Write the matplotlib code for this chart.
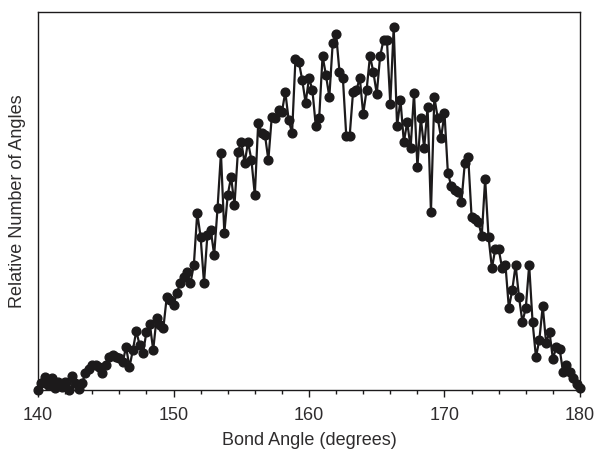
import numpy as np
import matplotlib
matplotlib.use("Agg")
import matplotlib.pyplot as plt
from matplotlib.ticker import MultipleLocator

plt.rcParams["font.family"] = ["Liberation Sans", "DejaVu Sans"]

# bond angle histogram, 0.25 degree bins from 140 to 180
angle_start, angle_step = 140.0, 0.25
counts = [
    0, 7, 13, 5, 12, 2, 8, 3, 8, 0,
    14, 7, 1, 7, 17, 21, 25, 25, 23, 17,
    25, 33, 35, 33, 32, 28, 43, 23, 40, 59,
    45, 37, 58, 66, 40, 72, 65, 62, 93, 90,
    85, 97, 107, 113, 118, 107, 125, 177, 153, 107,
    155, 160, 135, 182, 237, 157, 195, 213, 185, 238,
    248, 227, 248, 230, 195, 267, 257, 255, 230, 273,
    272, 280, 278, 298, 270, 257, 331, 328, 310, 287,
    312, 300, 264, 272, 334, 315, 293, 347, 356, 318,
    312, 254, 254, 298, 300, 312, 276, 300, 334, 318,
    296, 334, 350, 350, 286, 363, 264, 290, 248, 268,
    242, 297, 223, 272, 242, 283, 178, 293, 272, 252,
    277, 217, 204, 200, 198, 188, 227, 233, 173, 171,
    168, 154, 211, 153, 122, 141, 141, 122, 125, 82,
    100, 125, 93, 68, 82, 125, 68, 33, 50, 84,
    47, 58, 31, 43, 41, 18, 25, 18, 12, 6,
    2,
]
angles = angle_start + angle_step * np.arange(len(counts))

ink = "#1c1a1b"
text_ink = "#2e2c2d"

fig = plt.figure(figsize=(5.97, 4.5), dpi=100)
ax = fig.add_axes([0.0637, 0.1333, 0.9078, 0.84])

ax.plot(angles, counts, color=ink, lw=1.6, marker="o", ms=6.3,
        mfc=ink, mec=ink, clip_on=False, zorder=3)

ax.set_xlim(140, 180)
ax.set_ylim(0, 378)
ax.xaxis.set_major_locator(MultipleLocator(10))
ax.xaxis.set_minor_locator(MultipleLocator(2))
ax.tick_params(axis="x", which="major", direction="out", length=5, width=1,
               labelsize=13, pad=7, colors=ink, labelcolor=text_ink)
ax.tick_params(axis="x", which="minor", direction="out", length=3, width=1, colors=ink)
ax.set_yticks([])

for sp in ax.spines.values():
    sp.set_linewidth(1.0)
    sp.set_color(ink)

ax.set_xlabel("Bond Angle (degrees)", fontsize=13, color=text_ink, labelpad=6)
ax.set_ylabel("Relative Number of Angles", fontsize=13, color=text_ink, labelpad=9)

fig.savefig("out.png", dpi=100)
